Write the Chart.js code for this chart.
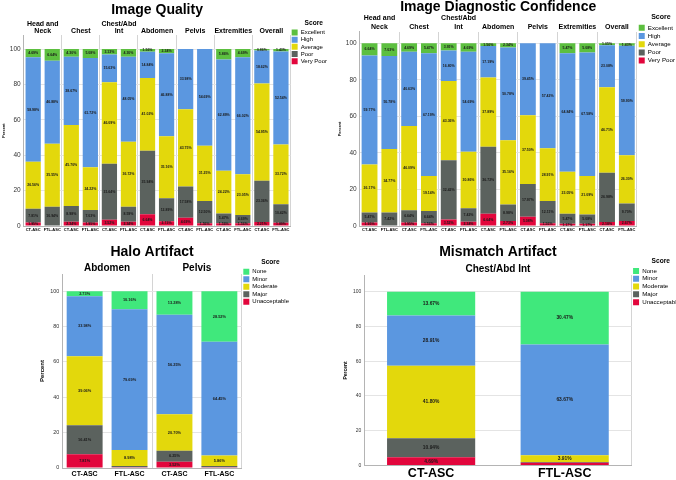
<!DOCTYPE html>
<html>
<head>
<meta charset="utf-8">
<script src="https://cdn.jsdelivr.net/npm/chart.js@4.4.1/dist/chart.umd.min.js"></script>
<style>
  body { margin: 0; background: #fff; }
  #painel { position: relative; width: 676px; height: 480px; overflow: hidden; }
  canvas { position: absolute; }
</style>
</head>
<body>
<div id="painel">
  <canvas id="grafico-qualidade" width="336" height="238" style="left:0;top:0"></canvas>
  <canvas id="grafico-confianca" width="340" height="238" style="left:336px;top:0"></canvas>
  <canvas id="grafico-halo" width="336" height="240" style="left:0;top:240px"></canvas>
  <canvas id="grafico-mismatch" width="340" height="240" style="left:336px;top:240px"></canvas>
</div>
<script>
// ---- dados ----
const grupos = ['CT-ASC', 'FTL-ASC'];
const regioes = [['Head and', 'Neck'], 'Chest', ['Chest/Abd', 'Int'], 'Abdomen', 'Pelvis', 'Extremities', 'Overall'];
const notasQualidade = ['Excellent', 'High', 'Average', 'Poor', 'Very Poor'];
const notasArtefato = ['None', 'Minor', 'Moderate', 'Major', 'Unacceptable'];

// Image Quality (CT, FTL para cada regiao)
const iqExcellent = [4.69, 6.64, 4.30, 5.08, 3.13, 4.30, 1.56, 2.34, 0, 0, 5.86, 4.69, 0.86, 1.43];
const iqHigh      = [58.98, 46.88, 38.67, 61.72, 15.63, 48.05, 14.84, 46.88, 33.98, 54.69, 62.89, 66.02, 18.62, 52.54];
const iqAverage   = [26.56, 35.55, 45.70, 24.22, 46.09, 36.72, 41.02, 35.16, 43.75, 31.25, 24.22, 23.05, 54.95, 33.72];
const iqPoor      = [7.81, 10.94, 8.98, 7.03, 31.64, 8.59, 35.94, 12.89, 17.58, 12.50, 5.47, 4.69, 23.36, 10.42];
const iqVeryPoor  = [1.95, 0, 2.34, 1.95, 3.52, 2.34, 6.64, 2.73, 4.69, 1.56, 1.56, 1.56, 2.21, 1.89];

// Image Diagnostic Confidence
const idcExcellent = [6.64, 7.03, 4.69, 5.47, 3.91, 4.69, 1.56, 2.34, 0, 0, 5.47, 5.08, 1.05, 1.43];
const idcHigh      = [59.77, 50.78, 40.63, 67.19, 16.80, 54.69, 17.19, 50.78, 39.45, 57.42, 64.84, 67.58, 23.08, 59.90];
const idcAverage   = [26.17, 34.77, 46.09, 19.14, 43.36, 30.86, 37.89, 35.16, 37.50, 28.91, 23.05, 21.09, 46.71, 26.30];
const idcPoor      = [5.47, 7.42, 6.64, 6.64, 32.42, 7.42, 36.72, 8.98, 17.97, 12.11, 5.47, 5.08, 26.98, 9.70];
const idcVeryPoor  = [1.95, 0, 1.95, 1.56, 3.52, 2.34, 6.64, 2.73, 5.08, 1.56, 1.17, 1.17, 2.18, 2.67];

// Halo Artifact
const regioesHalo = ['Abdomen', 'Pelvis'];
const haloNone         = [2.73, 10.16, 13.28, 28.52];
const haloMinor        = [33.98, 79.69, 56.25, 64.45];
const haloModerate     = [39.06, 8.98, 20.70, 5.86];
const haloMajor        = [16.41, 0.78, 6.25, 0.78];
const haloUnacceptable = [7.81, 0.39, 3.52, 0.39];

// Mismatch Artifact
const regiaoMismatch = ['Chest/Abd Int'];
const mismatchNone         = [13.67, 30.47];
const mismatchMinor        = [28.91, 63.67];
const mismatchModerate     = [41.80, 3.91];
const mismatchMajor        = [10.94, 0.39];
const mismatchUnacceptable = [4.69, 1.56];

const coresQualidade = ['#5cbf3f', '#5b97e0', '#e3d80c', '#5b625e', '#e2063c'];
const coresArtefato  = ['#40e87c', '#5b97e0', '#e3d80c', '#5b625e', '#e2063c'];

Chart.defaults.font.family = '"Liberation Sans", Arial, sans-serif';
Chart.defaults.color = '#000';

// rotulos de porcentagem no meio de cada segmento
const rotulos = {
  id: 'rotulos',
  afterDatasetsDraw(chart, args, opts) {
    const ctx = chart.ctx;
    ctx.save();
    ctx.font = 'bold ' + opts.size + 'px "Liberation Sans", Arial, sans-serif';
    ctx.fillStyle = '#1a1a1a';
    ctx.textAlign = 'center';
    ctx.textBaseline = 'middle';
    chart.data.datasets.forEach((ds, i) => {
      chart.getDatasetMeta(i).data.forEach((bar, j) => {
        if (ds.data[j] < opts.min) return;
        ctx.fillText(ds.data[j].toFixed(2) + '%', bar.x, (bar.y + bar.base) / 2);
      });
    });
    ctx.restore();
  }
};

function montaDatasets(notas, series, cores, largura) {
  // a primeira nota fica no topo da pilha
  return notas.map((nota, i) => ({
    label: nota,
    data: series[i],
    backgroundColor: cores[i],
    barPercentage: largura,
    categoryPercentage: 1
  })).reverse();
}

function opcoes(c) {
  return {
    responsive: false,
    animation: false,
    layout: { padding: c.padding },
    plugins: {
      title: {
        display: true, text: c.titulo, fullSize: false, color: '#000',
        font: { size: 14, weight: 'bold', lineHeight: 1 },
        padding: c.padTitulo
      },
      legend: {
        position: 'right', align: 'start', reverse: true,
        title: {
          display: true, text: 'Score', color: '#000',
          font: { size: c.leg.titulo, weight: 'bold', lineHeight: 1.1 },
          padding: { top: c.leg.topo, bottom: 1 }
        },
        labels: {
          boxWidth: c.leg.caixa, boxHeight: c.leg.caixa, padding: c.leg.espaco,
          color: '#000', font: { size: c.leg.fonte }
        }
      },
      tooltip: { enabled: false },
      rotulos: c.rotulo
    },
    scales: {
      x: {
        stacked: true,
        grid: { display: false, drawTicks: false },
        border: { color: '#b4b4b4' },
        ticks: {
          autoSkip: false, maxRotation: 0, padding: c.padGrupo, color: '#000',
          font: { size: c.fonteGrupo, weight: 'bold', lineHeight: 1 }
        }
      },
      x2: {
        type: 'category', labels: c.paineis, position: 'top', offset: true,
        grid: { offset: true, drawTicks: false, color: '#d4d4d4' },
        border: { display: false },
        ticks: {
          autoSkip: false, maxRotation: 0, minRotation: 0, padding: c.padPainel, color: '#000',
          font: { size: c.fontePainel, weight: 'bold', lineHeight: c.alturaPainel }
        }
      },
      y: {
        stacked: true, min: 0, max: c.yMax,
        afterBuildTicks: ax => { ax.ticks = ax.ticks.filter(t => t.value <= 100); },
        grid: { color: '#e4e4e4', drawTicks: false },
        border: { color: '#b4b4b4' },
        ticks: { stepSize: 20, padding: 3, color: '#333', font: { size: c.fonteY } },
        title: {
          display: true, text: 'Percent', color: '#000', padding: 1,
          font: { size: c.fontePercent, weight: 'bold' }
        }
      }
    }
  };
}

// grafico-qualidade
new Chart(document.getElementById('grafico-qualidade'), {
  type: 'bar',
  data: {
    labels: regioes.flatMap(() => grupos),
    datasets: montaDatasets(notasQualidade, [iqExcellent, iqHigh, iqAverage, iqPoor, iqVeryPoor], coresQualidade, 0.8)
  },
  options: opcoes({
    titulo: 'Image Quality', padTitulo: { top: 3, bottom: 3 },
    paineis: regioes, fontePainel: 7, alturaPainel: 1.1, padPainel: 0,
    fonteGrupo: 4, padGrupo: 1.5,
    yMax: 107.7, fonteY: 6.5, fontePercent: 4,
    padding: { left: 0, right: -1, top: 0, bottom: 5 },
    leg: { titulo: 6.6, topo: 20, caixa: 6, espaco: 1.2, fonte: 6 },
    rotulo: { size: 3.5, min: 0.8 }
  }),
  plugins: [rotulos]
});
//FIM grafico-qualidade

// grafico-confianca
new Chart(document.getElementById('grafico-confianca'), {
  type: 'bar',
  data: {
    labels: regioes.flatMap(() => grupos),
    datasets: montaDatasets(notasQualidade, [idcExcellent, idcHigh, idcAverage, idcPoor, idcVeryPoor], coresQualidade, 0.8)
  },
  options: opcoes({
    titulo: 'Image Diagnostic Confidence', padTitulo: { top: 0, bottom: 0 },
    paineis: regioes, fontePainel: 7, alturaPainel: 1.28, padPainel: 0,
    fonteGrupo: 4, padGrupo: 1.5,
    yMax: 106.2, fonteY: 6.5, fontePercent: 4,
    padding: { left: 0, right: -9, top: 0, bottom: 5 },
    leg: { titulo: 7, topo: 14, caixa: 6, espaco: 2, fonte: 6.2 },
    rotulo: { size: 3.5, min: 0.8 }
  }),
  plugins: [rotulos]
});
//FIM grafico-confianca

// grafico-halo
new Chart(document.getElementById('grafico-halo'), {
  type: 'bar',
  data: {
    labels: regioesHalo.flatMap(() => grupos),
    datasets: montaDatasets(notasArtefato, [haloNone, haloMinor, haloModerate, haloMajor, haloUnacceptable], coresArtefato, 0.8)
  },
  options: opcoes({
    titulo: 'Halo Artifact', padTitulo: { top: 5.5, bottom: 2.5 },
    paineis: regioesHalo, fontePainel: 10, alturaPainel: 1.2, padPainel: 0,
    fonteGrupo: 7, padGrupo: 3,
    yMax: 109.8, fonteY: 5.4, fontePercent: 6,
    padding: { left: 38, right: 37, top: 0, bottom: -1 },
    leg: { titulo: 6.6, topo: 19, caixa: 6, espaco: 1.5, fonte: 6 },
    rotulo: { size: 3.9, min: 2 }
  }),
  plugins: [rotulos]
});
//FIM grafico-halo

// grafico-mismatch
new Chart(document.getElementById('grafico-mismatch'), {
  type: 'bar',
  data: {
    labels: regiaoMismatch.flatMap(() => grupos),
    datasets: montaDatasets(notasArtefato, [mismatchNone, mismatchMinor, mismatchModerate, mismatchMajor, mismatchUnacceptable], coresArtefato, 0.66)
  },
  options: opcoes({
    titulo: 'Mismatch Artifact', padTitulo: { top: 5.5, bottom: 3.8 },
    paineis: regiaoMismatch, fontePainel: 10, alturaPainel: 1.2, padPainel: 0,
    fonteGrupo: 12.5, padGrupo: 1.5,
    yMax: 109.4, fonteY: 5, fontePercent: 5,
    padding: { left: 6, right: -14, top: 0, bottom: -1 },
    leg: { titulo: 6.6, topo: 18, caixa: 6, espaco: 1.6, fonte: 6.2 },
    rotulo: { size: 4.9, min: 2 }
  }),
  plugins: [rotulos]
});
//FIM grafico-mismatch
</script>
</body>
</html>
